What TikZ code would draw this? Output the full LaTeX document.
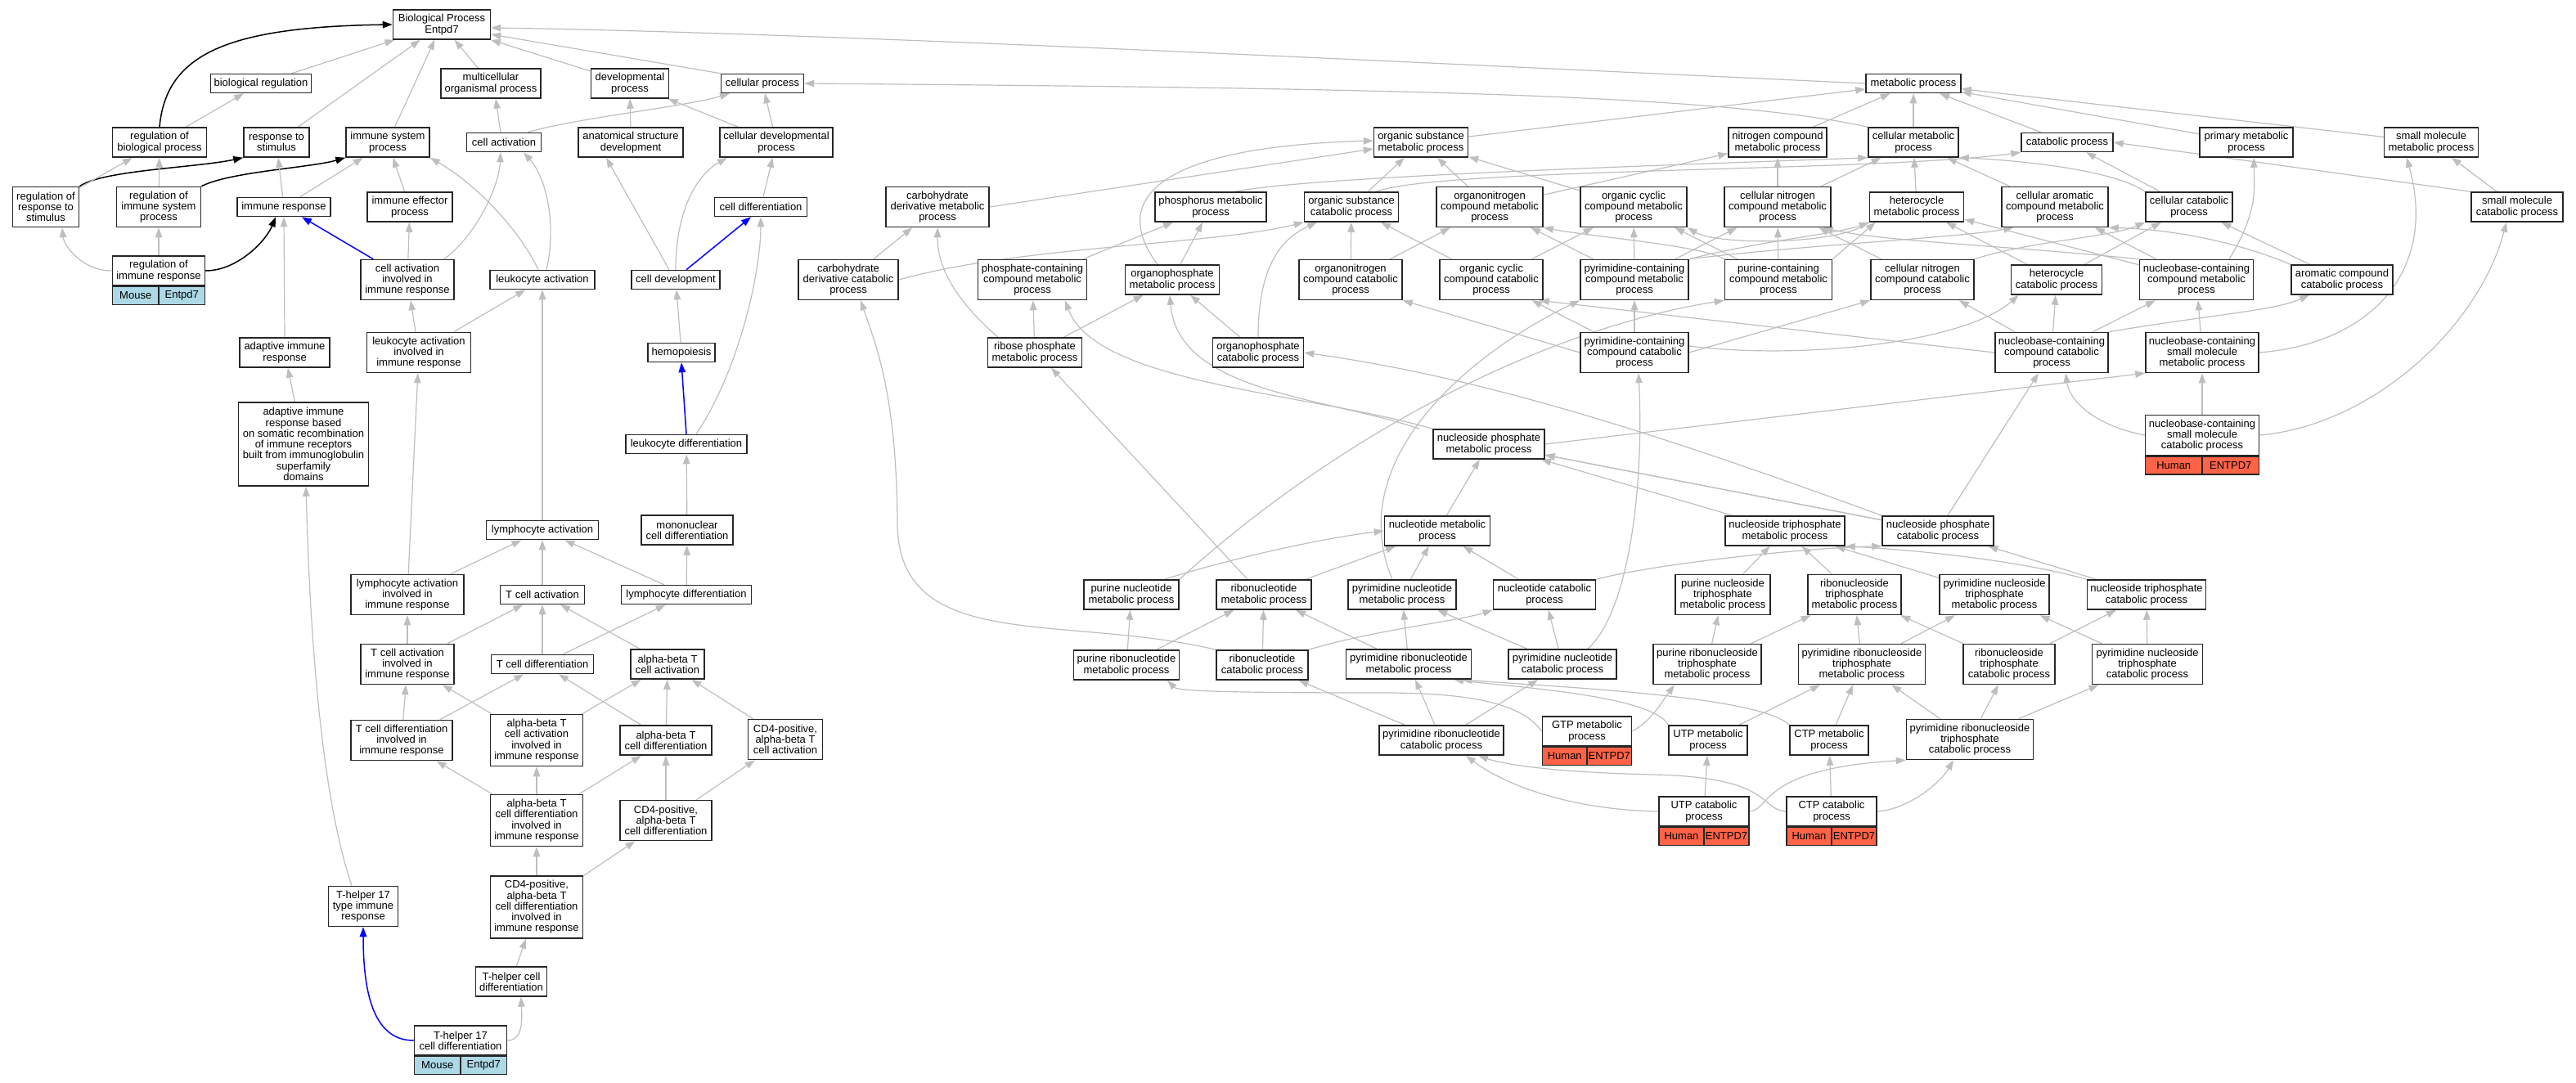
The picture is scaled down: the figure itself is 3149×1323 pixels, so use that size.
\documentclass[tikz,border=0pt]{standalone}
\usepackage{fontspec}
\setmainfont{Liberation Sans}
\usetikzlibrary{arrows.meta}
\definecolor{tomatoc}{HTML}{FF6347}
\definecolor{lblue}{HTML}{ADD8E6}
\definecolor{edgec}{HTML}{BEBEBE}
\pgfdeclarelayer{bg}
\pgfsetlayers{bg,main}
\tikzset{
  box/.style={draw=black!85, line width=1.5pt, fill=white, rectangle, inner sep=0pt, align=center, font=\fontsize{13}{13.3}\selectfont},
  cellbox/.style={draw=black!85, line width=1.5pt, rectangle, inner sep=0pt, minimum height=22pt, font=\fontsize{13}{13.3}\selectfont},
  isa/.style={draw=edgec, line width=1.2pt, -{Triangle[length=12pt,width=8.5pt]}},
  reg/.style={draw=black, line width=1.5pt, -{Triangle[length=12pt,width=8.5pt]}},
  po/.style={draw=blue, line width=1.5pt, -{Triangle[length=12pt,width=8.5pt]}}
}
\newcommand{\bx}[6]{\node[box,minimum width=#4pt,minimum height=#5pt] (#1) at (#2,#3) {#6};}
\newcommand{\tb}[5]{%
  \node[cellbox,fill=#2,minimum width=#3pt,anchor=north west] (#1L) at (#1.south west) {#4};
  \node[cellbox,fill=#2,minimum width=#3pt,anchor=north east] (#1R) at (#1.south east) {#5};}
\begin{document}
\begin{tikzpicture}[x=1pt,y=-1pt]
\useasboundingbox (0,0) rectangle (3149,1323);
% ---------- row 0-1
\bx{bp}{540}{30}{119}{36}{Biological Process\\Entpd7}
\bx{bioreg}{319}{102}{123}{23}{biological regulation}
\bx{mop}{600}{102}{122}{36}{multicellular\\organismal process}
\bx{devp}{770}{102}{95}{36}{developmental\\process}
\bx{cellp}{932}{102}{101}{23}{cellular process}
\bx{metp}{2339}{102}{116}{23}{metabolic process}
% ---------- row 174
\bx{rbp}{195}{174}{115}{36}{regulation of\\biological process}
\bx{rts}{338}{174}{80}{36}{response to\\stimulus}
\bx{isp}{474}{174}{102}{36}{immune system\\process}
\bx{cact}{616}{174}{91}{23}{cell activation}
\bx{asd}{771}{174}{128}{36}{anatomical structure\\development}
\bx{cdp}{949}{174}{138}{36}{cellular developmental\\process}
\bx{osmp}{1737}{174}{115}{36}{organic substance\\metabolic process}
\bx{ncmp}{2173}{174}{120}{36}{nitrogen compound\\metabolic process}
\bx{cmp}{2339}{174}{110}{36}{cellular metabolic\\process}
\bx{catp}{2527}{174}{112}{23}{catabolic process}
\bx{pmp}{2746}{174}{114}{36}{primary metabolic\\process}
\bx{smmp}{2972}{174}{115}{36}{small molecule\\metabolic process}
% ---------- row 253
\bx{rrs}{56}{253}{81}{49}{regulation of\\response to\\stimulus}
\bx{riss}{194}{253}{103}{49}{regulation of\\immune system\\process}
\bx{ir}{347}{253}{114}{23}{immune response}
\bx{iep}{501}{253}{104}{36}{immune effector\\process}
\bx{cdiff}{930}{253}{113}{23}{cell differentiation}
\bx{cdmp}{1146}{253}{126}{49}{carbohydrate\\derivative metabolic\\process}
\bx{phmp}{1480}{253}{136}{36}{phosphorus metabolic\\process}
\bx{oscp}{1652}{253}{115}{36}{organic substance\\catabolic process}
\bx{oncmp}{1821}{253}{130}{49}{organonitrogen\\compound metabolic\\process}
\bx{occmp}{1997}{253}{130}{49}{organic cyclic\\compound metabolic\\process}
\bx{cncmp}{2173}{253}{130}{49}{cellular nitrogen\\compound metabolic\\process}
\bx{hmp}{2343}{253}{115}{36}{heterocycle\\metabolic process}
\bx{cacmp}{2512}{253}{130}{49}{cellular aromatic\\compound metabolic\\process}
\bx{ccp}{2676}{253}{106}{36}{cellular catabolic\\process}
\bx{smcp}{3077}{253}{112}{36}{small molecule\\catabolic process}
% ---------- row 342
\bx{rir}{194}{331}{113}{36}{regulation of\\immune response}
\tb{rir}{lblue}{56.5}{Mouse}{Entpd7}
\bx{caiir}{498}{342}{114}{49}{cell activation\\involved in\\immune response}
\bx{lact}{663}{342}{128}{23}{leukocyte activation}
\bx{cdev}{826}{342}{108}{23}{cell development}
\bx{cdcp}{1037}{342}{122}{49}{carbohydrate\\derivative catabolic\\process}
\bx{pccmp}{1262}{342}{133}{49}{phosphate-containing\\compound metabolic\\process}
\bx{opmp}{1433}{342}{115}{36}{organophosphate\\metabolic process}
\bx{onccp}{1651}{342}{126}{49}{organonitrogen\\compound catabolic\\process}
\bx{occcp}{1823}{342}{126}{49}{organic cyclic\\compound catabolic\\process}
\bx{pycmp}{1998}{342}{132}{49}{pyrimidine-containing\\compound metabolic\\process}
\bx{pucmp}{2174}{342}{131}{49}{purine-containing\\compound metabolic\\process}
\bx{cnccp}{2350}{342}{126}{49}{cellular nitrogen\\compound catabolic\\process}
\bx{hcp}{2514}{342}{111}{36}{heterocycle\\catabolic process}
\bx{nbcmp}{2685}{342}{139}{49}{nucleobase-containing\\compound metabolic\\process}
\bx{accp}{2863}{342}{124}{36}{aromatic compound\\catabolic process}
% ---------- row 431
\bx{air}{348}{431}{110}{36}{adaptive immune\\response}
\bx{laiir}{512}{431}{127}{49}{leukocyte activation\\involved in\\immune response}
\bx{hemo}{833}{431}{82}{23}{hemopoiesis}
\bx{rpmp}{1265}{431}{115}{36}{ribose phosphate\\metabolic process}
\bx{opcp}{1538}{431}{111}{36}{organophosphate\\catabolic process}
\bx{pyccp}{1998}{431}{132}{49}{pyrimidine-containing\\compound catabolic\\process}
\bx{nbccp}{2508}{431}{138}{49}{nucleobase-containing\\compound catabolic\\process}
\bx{nbsmmp}{2692}{431}{138}{49}{nucleobase-containing\\small molecule\\metabolic process}
% ---------- row 543
\bx{airsr}{371}{543}{159}{102}{adaptive immune\\response based\\on somatic recombination\\of immune receptors\\built from immunoglobulin\\superfamily\\domains}
\bx{ldiff}{839}{543}{148}{23}{leukocyte differentiation}
\bx{npmp}{1820}{543}{136}{36}{nucleoside phosphate\\metabolic process}
\bx{nbsmcp}{2692}{532}{139}{49}{nucleobase-containing\\small molecule\\catabolic process}
\tb{nbsmcp}{tomatoc}{69.5}{Human}{ENTPD7}
% ---------- row 648
\bx{lyact}{663}{648}{137}{23}{lymphocyte activation}
\bx{mcd}{840}{648}{112}{36}{mononuclear\\cell differentiation}
\bx{nmp}{1757}{649}{129}{36}{nucleotide metabolic\\process}
\bx{ntmp}{2182}{649}{146}{36}{nucleoside triphosphate\\metabolic process}
\bx{npcp}{2369}{649}{136}{36}{nucleoside phosphate\\catabolic process}
% ---------- row 727
\bx{lyaiir}{498}{727}{138}{49}{lymphocyte activation\\involved in\\immune response}
\bx{tca}{663}{727}{103}{23}{T cell activation}
\bx{lydiff}{839}{727}{159}{23}{lymphocyte differentiation}
\bx{punmp}{1383}{727}{116}{36}{purine nucleotide\\metabolic process}
\bx{rnmp}{1545}{727}{116}{36}{ribonucleotide\\metabolic process}
\bx{pynmp}{1714}{727}{132}{36}{pyrimidine nucleotide\\metabolic process}
\bx{ncp}{1888}{727}{125}{36}{nucleotide catabolic\\process}
\bx{puntmp}{2106}{727}{116}{49}{purine nucleoside\\triphosphate\\metabolic process}
\bx{rntmp}{2267}{727}{114}{49}{ribonucleoside\\triphosphate\\metabolic process}
\bx{pyntmp}{2438}{727}{134}{49}{pyrimidine nucleoside\\triphosphate\\metabolic process}
\bx{ntcp}{2624}{727}{145}{36}{nucleoside triphosphate\\catabolic process}
% ---------- row 812
\bx{tcaiir}{498}{812}{114}{49}{T cell activation\\involved in\\immune response}
\bx{tcd}{663}{812}{125}{23}{T cell differentiation}
\bx{abtca}{816}{812}{90}{36}{alpha-beta T\\cell activation}
\bx{purnmp}{1377}{813}{129}{36}{purine ribonucleotide\\metabolic process}
\bx{rncp}{1543}{813}{112}{36}{ribonucleotide\\catabolic process}
\bx{pyrnmp}{1722}{812}{153}{36}{pyrimidine ribonucleotide\\metabolic process}
\bx{pyncp}{1910}{812}{132}{36}{pyrimidine nucleotide\\catabolic process}
\bx{purntmp}{2087}{812}{132}{49}{purine ribonucleoside\\triphosphate\\metabolic process}
\bx{pyrntmp}{2276}{812}{155}{49}{pyrimidine ribonucleoside\\triphosphate\\metabolic process}
\bx{rntcp}{2456}{812}{112}{49}{ribonucleoside\\triphosphate\\catabolic process}
\bx{pyntcp}{2625}{812}{135}{49}{pyrimidine nucleoside\\triphosphate\\catabolic process}
% ---------- row 905
\bx{tcdiir}{491}{905}{124}{49}{T cell differentiation\\involved in\\immune response}
\bx{abtcaiir}{656}{905}{113}{63}{alpha-beta T\\cell activation\\involved in\\immune response}
\bx{abtcd}{814}{905}{112}{36}{alpha-beta T\\cell differentiation}
\bx{cdfabtca}{960}{904}{91}{49}{CD4-positive,\\alpha-beta T\\cell activation}
\bx{pyrncp}{1762}{905}{152}{36}{pyrimidine ribonucleotide\\catabolic process}
\bx{gtp}{1940}{894}{109}{36}{GTP metabolic\\process}
\tb{gtp}{tomatoc}{54.5}{Human}{ENTPD7}
\bx{utpm}{2088}{905}{96}{36}{UTP metabolic\\process}
\bx{ctpm}{2236}{905}{96}{36}{CTP metabolic\\process}
\bx{pyrntcp}{2408}{904}{155}{49}{pyrimidine ribonucleoside\\triphosphate\\catabolic process}
% ---------- row 1003
\bx{abtcdiir}{656}{1003}{113}{63}{alpha-beta T\\cell differentiation\\involved in\\immune response}
\bx{cdfabtcd}{814}{1003}{112}{49}{CD4-positive,\\alpha-beta T\\cell differentiation}
\bx{utpc}{2083}{992}{110}{36}{UTP catabolic\\process}
\tb{utpc}{tomatoc}{55}{Human}{ENTPD7}
\bx{ctpc}{2239}{992}{110}{36}{CTP catabolic\\process}
\tb{ctpc}{tomatoc}{55}{Human}{ENTPD7}
% ---------- bottom
\bx{thir}{444}{1108}{85}{49}{T-helper 17\\type immune\\response}
\bx{cdfabtcdiir}{656}{1109}{113}{76}{CD4-positive,\\alpha-beta T\\cell differentiation\\involved in\\immune response}
\bx{thcd}{625}{1200}{87}{36}{T-helper cell\\differentiation}
\bx{thscd}{563}{1272}{113}{36}{T-helper 17\\cell differentiation}
\tb{thscd}{lblue}{56.5}{Mouse}{Entpd7}

\begin{pgfonlayer}{bg}
% ---- regulates (black)
\draw[reg] (rbp.north) .. controls (203,65) and (280,33) .. (bp.west);
\draw[reg] (rrs.north east) .. controls (125,208) and (240,205) .. (rts.south west);
\draw[reg] (riss.north east) .. controls (280,210) and (380,205) .. (isp.south west);
\draw[reg] (rir.east) .. controls (290,331) and (325,295) .. ([xshift=-10pt]ir.south);
% ---- part of (blue)
\draw[po] ([xshift=16pt]caiir.north west) -- ([xshift=22pt]ir.south);
\draw[po] ([xshift=13pt]cdev.north) -- ([xshift=-12pt]cdiff.south);
\draw[po] (ldiff.north) -- (hemo.south);
\draw[po] (thscd.west) .. controls (455,1272) and (444,1210) .. (thir.south);
% ---- is_a (gray), left part
\draw[isa] (bioreg) -- (bp);
\draw[isa] (rts) -- (bp);
\draw[isa] (isp) -- (bp);
\draw[isa] (mop) -- (bp);
\draw[isa] (devp) -- (bp);
\draw[isa] (cellp.north west) -- ([yshift=-12pt]bp.east);
\draw[isa] (metp.west) .. controls (1700,75) and (1000,40) .. ([yshift=-4pt]bp.east);
\draw[isa] (rbp) -- (bioreg);
\draw[isa] (rrs) -- (rbp);
\draw[isa] (riss) -- (rbp);
\draw[isa] (ir) -- (rts);
\draw[isa] (ir) -- (isp);
\draw[isa] (iep) -- (isp);
\draw[isa] ([xshift=-5pt]lact.north) .. controls (640,290) and (590,230) .. (isp.south east);
\draw[isa] ([xshift=5pt]lact.north) .. controls (680,280) and (670,220) .. ([xshift=24pt]cact.south);
\draw[isa] (caiir) -- (iep);
\draw[isa] ([xshift=-13pt]caiir.north east) .. controls (580,290) and (610,230) .. ([xshift=-4pt]cact.south);
\draw[isa] ([xshift=29pt]cact.north) .. controls (700,145) and (840,130) .. ([xshift=-40pt]cellp.south);
\draw[isa] ([xshift=-4pt]cact.north) -- ([xshift=6pt]mop.south);
\draw[isa] (asd) -- (devp);
\draw[isa] (cdp) -- (devp);
\draw[isa] (cdp) -- (cellp);
\draw[isa] ([xshift=-8pt]cdev.north) -- ([xshift=-30pt]asd.south);
\draw[isa] (cdev.north) .. controls (826,260) and (850,215) .. ([xshift=-60pt]cdp.south);
\draw[isa] (cdiff) -- (cdp);
\draw[isa] (hemo) -- (cdev);
\draw[isa] ([xshift=12pt]ldiff.north) .. controls (905,450) and (930,330) .. (cdiff.south);
\draw[isa] (mcd) -- (ldiff);
\draw[isa] (lydiff) -- (mcd);
\draw[isa] (lyact.north) -- (lact.south);
\draw[isa] (air.north) -- (ir.south);
\draw[isa] (laiir) -- (caiir);
\draw[isa] (laiir) -- (lact);
\draw[isa] (airsr) -- (air);
\draw[isa] (lyaiir) -- (laiir);
\draw[isa] (lyaiir) -- (lyact);
\draw[isa] (tca) -- (lyact);
\draw[isa] (lydiff) -- (lyact);
\draw[isa] (tcaiir) -- (lyaiir);
\draw[isa] (tcaiir) -- (tca);
\draw[isa] (tcd) -- (tca);
\draw[isa] (tcd) -- (lydiff);
\draw[isa] (abtca) -- (tca);
\draw[isa] (tcdiir) -- (tcaiir);
\draw[isa] (tcdiir) -- (tcd);
\draw[isa] (abtcaiir) -- (tcaiir);
\draw[isa] (abtcaiir) -- (abtca);
\draw[isa] (abtcd) -- (tcd);
\draw[isa] (abtcd) -- (abtca);
\draw[isa] (cdfabtca) -- (abtca);
\draw[isa] (abtcdiir) -- (tcdiir);
\draw[isa] (abtcdiir) -- (abtcaiir);
\draw[isa] (abtcdiir) -- (abtcd);
\draw[isa] (cdfabtcd) -- (abtcd);
\draw[isa] (cdfabtcd) -- (cdfabtca);
\draw[isa] (cdfabtcdiir) -- (abtcdiir);
\draw[isa] (cdfabtcdiir) -- (cdfabtcd);
\draw[isa] (thcd) -- (cdfabtcdiir);
\draw[isa] (thscd.east) .. controls (640,1272) and (638,1245) .. ([xshift=12pt]thcd.south);
\draw[isa] ([xshift=-14pt]thir.north) .. controls (385,950) and (377,700) .. ([xshift=3pt]airsr.south);
\draw[isa] (rir.north) -- (riss.south);
\draw[isa] (rir.west) .. controls (100,331) and (78,300) .. ([xshift=20pt]rrs.south);
% ---- metabolic part
\draw[isa] (osmp) -- (metp);
\draw[isa] (ncmp) -- (metp);
\draw[isa] (cmp) -- (metp);
\draw[isa] (catp) -- (metp);
\draw[isa] (pmp) -- (metp);
\draw[isa] (smmp) -- (metp);
\draw[isa] (cmp.north west) .. controls (2100,115) and (1700,108) .. (cellp.east);
\draw[isa] (oscp) -- (osmp);
\draw[isa] ([xshift=30pt]oscp.north) .. controls (1760,205) and (2300,210) .. (catp.south west);
\draw[isa] ([xshift=30pt]phmp.north) .. controls (1600,215) and (2100,200) .. (cmp.south west);
\draw[isa] (cdmp.east) -- ([yshift=-8pt]osmp.west);
\draw[isa] ([xshift=-18pt]opmp.north) .. controls (1360,250) and (1400,180) .. ([yshift=2pt]osmp.west);
\draw[isa] (oncmp) -- (osmp);
\draw[isa] (oncmp) -- (ncmp);
\draw[isa] (occmp) -- (osmp);
\draw[isa] (cncmp) -- (ncmp);
\draw[isa] (cncmp) -- (cmp);
\draw[isa] (hmp) -- (cmp);
\draw[isa] (hmp.south west) .. controls (2250,300) and (2100,300) .. (occmp.south east);
\draw[isa] (cacmp) -- (cmp);
\draw[isa] (ccp) -- (catp);
\draw[isa] (ccp.north west) .. controls (2580,205) and (2450,195) .. (cmp.south east);
\draw[isa] (smcp) -- (smmp);
\draw[isa] (smcp.north west) -- (catp.east);
\draw[isa] (pccmp) -- (phmp);
\draw[isa] (opmp) -- (phmp);
\draw[isa] (cdcp) -- (cdmp);
\draw[isa] (cdcp.east) .. controls (1250,300) and (1480,300) .. (oscp.south west);
\draw[isa] ([xshift=-45pt]rpmp.north) .. controls (1160,360) and (1146,320) .. (cdmp.south);
\draw[isa] (rpmp) -- (pccmp);
\draw[isa] (rpmp) -- (opmp);
\draw[isa] (opcp) -- (opmp);
\draw[isa] (opcp.north) .. controls (1538,320) and (1570,290) .. ([xshift=-42pt]oscp.south);
\draw[isa] (npmp.north west) .. controls (1600,480) and (1340,470) .. ([xshift=40pt]pccmp.south);
\draw[isa] ([xshift=-16pt]npmp.north west) .. controls (1620,485) and (1440,480) .. ([xshift=-3pt]opmp.south);
\draw[isa] (npmp.east) -- (nbsmmp.south west);
\draw[isa] (npcp) -- (npmp);
\draw[isa] (npcp) -- (nbccp);
\draw[isa] (npcp.north west) .. controls (2000,520) and (1800,460) .. (opcp.east);
\draw[isa] (nbsmcp) -- (nbsmmp);
\draw[isa] (nbsmcp.west) .. controls (2560,520) and (2530,490) .. ([xshift=17pt]nbccp.south);
\draw[isa] (nbsmcp.east) .. controls (2900,520) and (3030,400) .. ([xshift=-13pt]smcp.south);
\draw[isa] (nbsmmp) -- (nbcmp);
\draw[isa] (nbsmmp.east) .. controls (2900,420) and (2980,330) .. ([xshift=-30pt]smmp.south);
\draw[isa] (nbccp) -- (cnccp);
\draw[isa] (nbccp) -- (hcp);
\draw[isa] (nbccp) -- (nbcmp);
\draw[isa] (nbccp.north east) .. controls (2700,385) and (2780,380) .. ([xshift=-40pt]accp.south);
\draw[isa] (nbccp.west) -- ([xshift=-5pt]occcp.south east);
\draw[isa] ([xshift=40pt]nbcmp.north) .. controls (2760,260) and (2756,230) .. ([xshift=9pt]pmp.south);
\draw[isa] (nbcmp) -- (hmp);
\draw[isa] (nbcmp) -- (cacmp);
\draw[isa] (nbcmp.north west) .. controls (2450,300) and (2300,295) .. ([xshift=-10pt]cncmp.south east);
\draw[isa] (hcp) -- (hmp);
\draw[isa] (hcp) -- (ccp);
\draw[isa] (accp) -- (ccp);
\draw[isa] (accp.north west) .. controls (2720,290) and (2640,280) .. (cacmp.south east);
\draw[isa] (cnccp.north east) .. controls (2480,295) and (2580,290) .. (ccp.south west);
\draw[isa] (cnccp) -- (cncmp);
\draw[isa] (pucmp.north west) .. controls (2080,300) and (1950,290) .. (oncmp.south east);
\draw[isa] (pucmp) -- (occmp);
\draw[isa] (pucmp) -- (cncmp);
\draw[isa] (pucmp.north east) -- ([xshift=8pt]hmp.south west);
\draw[isa] (pycmp) -- (oncmp);
\draw[isa] (pycmp) -- (occmp);
\draw[isa] (pycmp) -- (cncmp);
\draw[isa] (pycmp.north east) .. controls (2150,295) and (2250,285) .. (hmp.south west);
\draw[isa] (pycmp.north east) .. controls (2200,300) and (2400,290) .. ([xshift=15pt]cacmp.south west);
\draw[isa] (onccp) -- (oncmp);
\draw[isa] (onccp) -- (oscp);
\draw[isa] (occcp) -- (occmp);
\draw[isa] (occcp) -- (oscp);
\draw[isa] (pyccp) -- (pycmp);
\draw[isa] (pyccp) -- (occcp);
\draw[isa] (pyccp.west) -- (onccp.south east);
\draw[isa] (pyccp.east) -- (cnccp.south west);
\draw[isa] ([yshift=8pt]pyccp.east) .. controls (2200,440) and (2400,420) .. ([xshift=10pt]hcp.south west);
\draw[isa] (punmp.north east) .. controls (1650,520) and (1900,400) .. (pucmp.south west);
\draw[isa] ([xshift=-12pt]pynmp.north) .. controls (1640,560) and (1800,430) .. (pycmp.south west);
\draw[isa] ([xshift=-20pt]rnmp.north) -- ([xshift=20pt]rpmp.south);
\draw[isa] ([xshift=-18pt]punmp.north east) .. controls (1480,690) and (1600,660) .. (nmp.west);
\draw[isa] (rnmp) -- (nmp);
\draw[isa] (pynmp) -- (nmp);
\draw[isa] (ncp) -- (nmp);
\draw[isa] (ncp.north east) .. controls (2020,690) and (2200,670) .. (npcp.south west);
\draw[isa] (nmp) -- (npmp);
\draw[isa] (ntmp) -- (npmp);
\draw[isa] (npcp) -- (npmp);
\draw[isa] (puntmp) -- (ntmp);
\draw[isa] (rntmp) -- (ntmp);
\draw[isa] (pyntmp) -- (ntmp);
\draw[isa] (ntcp.north west) .. controls (2450,680) and (2300,670) .. (ntmp.south east);
\draw[isa] (ntcp) -- (npcp);
\draw[isa] (purnmp) -- (punmp);
\draw[isa] (purnmp) -- (rnmp);
\draw[isa] (rncp) -- (rnmp);
\draw[isa] (rncp.north east) .. controls (1680,770) and (1780,760) .. (ncp.south west);
\draw[isa] (rncp.north west) .. controls (1300,750) and (1098,800) .. (1097,640) .. controls (1096,480) and (1070,420) .. ([xshift=15pt]cdcp.south);
\draw[isa] (pyrnmp) -- (rnmp);
\draw[isa] (pyrnmp) -- (pynmp);
\draw[isa] (pyncp) -- (ncp);
\draw[isa] (pyncp) -- (pynmp);
\draw[isa] ([xshift=-36pt]pyncp.north east) .. controls (1990,750) and (2010,600) .. ([xshift=5pt]pyccp.south);
\draw[isa] (pyrncp) -- (rncp);
\draw[isa] (pyrncp) -- (pyrnmp);
\draw[isa] (pyrncp) -- (pyncp);
\draw[isa] (gtp.west) .. controls (1860,860) and (1800,848) .. (1700,847) .. controls (1500,847) and (1440,845) .. ([xshift=50pt]purnmp.south);
\draw[isa] (gtp.east) .. controls (2020,880) and (2030,860) .. ([xshift=-40pt]purntmp.south);
\draw[isa] (utpm) -- (pyrntmp);
\draw[isa] (utpm.north west) .. controls (2020,850) and (1850,840) .. ([xshift=55pt]pyrnmp.south);
\draw[isa] (ctpm.north west) .. controls (2150,850) and (1900,840) .. ([xshift=65pt]pyrnmp.south);
\draw[isa] (ctpm) -- (pyrntmp);
\draw[isa] (utpc) -- (utpm);
\draw[isa] (utpc.west) .. controls (1920,990) and (1840,960) .. ([xshift=30pt]pyrncp.south);
\draw[isa] (utpc.east) .. controls (2165,990) and (2150,940) .. (pyrntcp.south west);
\draw[isa] (ctpc) -- (ctpm);
\draw[isa] (ctpc.west) .. controls (2150,990) and (2170,950) .. (2020,947) .. controls (1900,944) and (1840,935) .. ([xshift=45pt]pyrncp.south);
\draw[isa] (ctpc.east) .. controls (2330,990) and (2370,960) .. ([xshift=-20pt]pyrntcp.south);
\draw[isa] (purntmp) -- (puntmp);
\draw[isa] (purntmp) -- (rntmp);
\draw[isa] (pyrntmp) -- (rntmp);
\draw[isa] (pyrntmp) -- (pyntmp);
\draw[isa] (rntcp) -- (rntmp);
\draw[isa] (rntcp) -- (ntcp);
\draw[isa] (pyntcp) -- (pyntmp);
\draw[isa] (pyntcp) -- (ntcp);
\draw[isa] (pyrntcp) -- (pyrntmp);
\draw[isa] (pyrntcp) -- (rntcp);
\draw[isa] (pyrntcp) -- (pyntcp);
\end{pgfonlayer}
\end{tikzpicture}
\end{document}
